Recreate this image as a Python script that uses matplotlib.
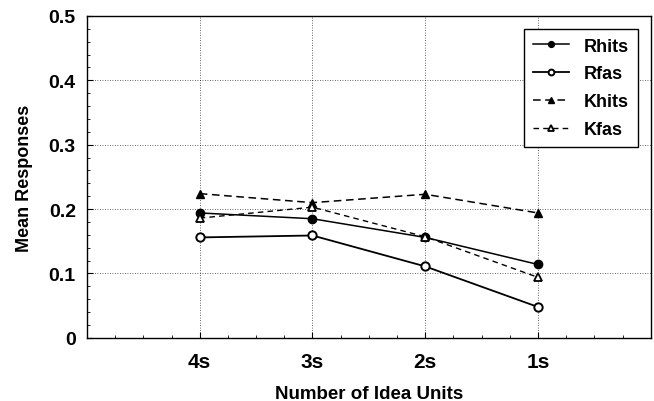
import matplotlib
matplotlib.use("Agg")
import matplotlib.pyplot as plt
from matplotlib.ticker import MultipleLocator

plt.rcParams['font.family'] = ['Liberation Sans', 'DejaVu Sans']
plt.rcParams['font.weight'] = 'bold'

categories = ["4s", "3s", "2s", "1s"]
rhits = [0.194, 0.185, 0.156, 0.114]
rfas = [0.156, 0.159, 0.111, 0.048]
khits = [0.224, 0.210, 0.223, 0.194]
kfas = [0.186, 0.203, 0.157, 0.094]
yticks = [0, 0.1, 0.2, 0.3, 0.4, 0.5]
ytick_labels = ["0", "0.1", "0.2", "0.3", "0.4", "0.5"]

fig = plt.figure(figsize=(6.54, 4.02), dpi=100)
ax = fig.add_axes([0.133, 0.157, 0.862, 0.801])

x = list(range(1, len(categories) + 1))
ax.plot(x, rhits, color='black', lw=1.1, ls='-', marker='o', ms=6,
        mfc='black', mec='black', label='Rhits')
ax.plot(x, rfas, color='black', lw=1.3, ls='-', marker='o', ms=6,
        mfc='white', mec='black', mew=1.4, label='Rfas')
ax.plot(x, khits, color='black', lw=1.1, ls=(0, (5, 3)), marker='^', ms=6,
        mfc='black', mec='black', label='Khits')
ax.plot(x, kfas, color='black', lw=1.0, ls=(0, (4, 3)), marker='^', ms=6,
        mfc='white', mec='black', mew=1.3, label='Kfas')

ax.set_xlim(0, len(categories) + 1)
ax.set_ylim(0, 0.5)
ax.set_xticks(x)
ax.set_xticklabels(categories, fontsize=15, fontweight='bold')
ax.set_yticks(yticks)
ax.set_yticklabels(ytick_labels, fontsize=14, fontweight='bold')
ax.yaxis.set_minor_locator(MultipleLocator(0.02))
ax.xaxis.set_minor_locator(MultipleLocator(0.25))
ax.tick_params(axis='x', which='major', direction='in', length=4, width=0.8, pad=10)
ax.tick_params(axis='y', which='major', direction='in', length=4, width=0.8, pad=8)
ax.tick_params(axis='both', which='minor', direction='in', length=2, width=0.6)

ax.grid(True, which='major', ls=(0, (1, 2)), color='black', lw=0.6, alpha=0.8)
for s in ax.spines.values():
    s.set_linewidth(1.0)
    s.set_color('black')

ax.set_xlabel("Number of Idea Units", fontsize=13.5, fontweight='bold', labelpad=10)
ax.set_ylabel("Mean Responses", fontsize=13, fontweight='bold', labelpad=11)

leg = ax.legend(loc='upper right', frameon=True, fancybox=False,
                edgecolor='black', framealpha=1, handlelength=2.0,
                borderaxespad=0.7, labelspacing=0.6, markerscale=0.7,
                borderpad=0.5, handletextpad=0.8,
                prop={'weight': 'bold', 'size': 13})
leg.get_frame().set_linewidth(1.0)

fig.savefig("out.png", dpi=100)
